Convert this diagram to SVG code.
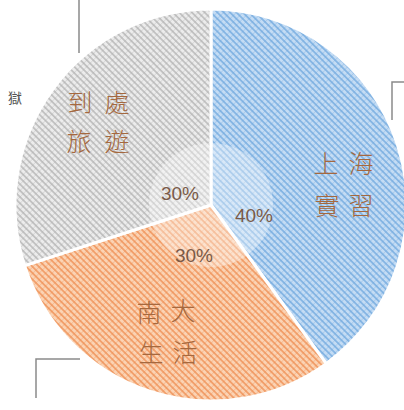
<svg xmlns="http://www.w3.org/2000/svg" width="404" height="410" viewBox="0 0 404 410">
<style>
.slice{stroke:#ffffff;stroke-width:3;stroke-linejoin:round}
.lbl{font-family:"Noto Sans CJK TC","Noto Sans CJK SC",sans-serif;font-size:25px;fill:#a5683e;font-weight:300;text-anchor:middle}
.pct{font-family:"Liberation Sans","DejaVu Sans",sans-serif;font-size:19px;fill:#7a5a48;text-anchor:middle}
.lead{fill:none;stroke:#8a8a8a;stroke-width:1.5}
.side{font-family:"Noto Sans CJK TC","Noto Sans CJK SC",sans-serif;font-size:14px;fill:#555555}
</style>
<defs>
<pattern id="pBlue" patternUnits="userSpaceOnUse" width="4.5" height="4.5" patternTransform="rotate(-45)">
<rect width="4.5" height="4.5" fill="#c4dcf4"/>
<rect x="0" width="1.8" height="4.5" fill="#86b6e4"/>
<rect y="0" width="4.5" height="0.8" fill="#6fa2d8" opacity="0.35"/>
</pattern>
<pattern id="pOrange" patternUnits="userSpaceOnUse" width="4.5" height="4.5" patternTransform="rotate(-45)">
<rect width="4.5" height="4.5" fill="#fbd3b4"/>
<rect x="0" width="1.8" height="4.5" fill="#f2a06c"/>
<rect y="0" width="4.5" height="0.8" fill="#e88a4c" opacity="0.35"/>
</pattern>
<pattern id="pGrey" patternUnits="userSpaceOnUse" width="4.5" height="4.5" patternTransform="rotate(-45)">
<rect width="4.5" height="4.5" fill="#ececec"/>
<rect x="0" width="1.8" height="4.5" fill="#c2c2c2"/>
<rect y="0" width="4.5" height="0.8" fill="#a8a8a8" opacity="0.35"/>
</pattern>
</defs>
<g id="connectors">
<path class="lead" d="M79,0 V53"/>
<path class="lead" d="M404,82 H392 V120"/>
<path class="lead" d="M80,359 H36 V398"/>
</g>
<g id="slice-shanghai">
<path class="slice" fill="url(#pBlue)" d="M211,205 L211,9 A196,196 0 0 1 326.2,363.6 Z"/>
</g>
<g id="slice-nanda">
<path class="slice" fill="url(#pOrange)" d="M211,205 L326.2,363.6 A196,196 0 0 1 24.6,265.6 Z"/>
</g>
<g id="slice-travel">
<path class="slice" fill="url(#pGrey)" d="M211,205 L24.6,265.6 A196,196 0 0 1 211,9 Z"/>
</g>
<g id="center">
<circle cx="211" cy="205" r="62" fill="#ffffff" opacity="0.35"/>
</g>
<g id="labels">
<text class="lbl" x="80" y="112">到</text>
<text class="lbl" x="117" y="112">處</text>
<text class="lbl" x="79" y="151">旅</text>
<text class="lbl" x="117" y="151">遊</text>
<text class="lbl" x="326" y="173">上</text>
<text class="lbl" x="361" y="173">海</text>
<text class="lbl" x="327" y="215">實</text>
<text class="lbl" x="361" y="215">習</text>
<text class="lbl" x="149" y="322">南</text>
<text class="lbl" x="183" y="320">大</text>
<text class="lbl" x="151" y="362">生</text>
<text class="lbl" x="185" y="362">活</text>
<text class="pct" x="180" y="200">30%</text>
<text class="pct" x="254" y="222">40%</text>
<text class="pct" x="194" y="262">30%</text>
<text class="side" x="8" y="103">獄</text>
</g>
</svg>
